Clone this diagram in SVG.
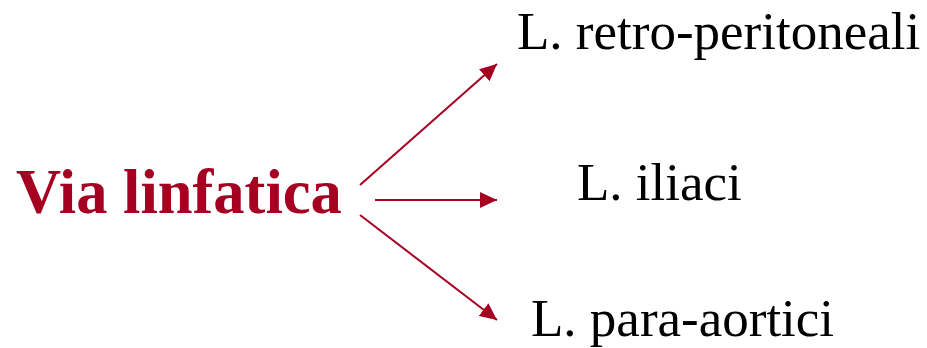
<svg xmlns="http://www.w3.org/2000/svg" width="927" height="348" viewBox="0 0 927 348">
<defs>
<style>
.src{font-family:"Liberation Serif","Times New Roman",serif;font-weight:bold;font-size:62.5px;fill:#A50021}
.dst{font-family:"Liberation Serif","Times New Roman",serif;font-size:53px;fill:#000}
.con{stroke:#A50021;stroke-width:2;fill:none;marker-end:url(#ah)}
</style>
<marker id="ah" markerUnits="userSpaceOnUse" markerWidth="18" markerHeight="16" refX="17" refY="8" orient="auto">
<path d="M0,0 L17,8 L0,16 Z" fill="#A50021"/>
</marker>
</defs>
<rect width="927" height="348" fill="#fff"/>
<g id="via"><text class="src" x="16" y="213">Via linfatica</text></g>
<g id="retro"><text class="dst" x="517" y="49">L. retro-peritoneali</text></g>
<g id="iliaci"><text class="dst" x="577" y="200">L. iliaci</text></g>
<g id="para"><text class="dst" x="531" y="336">L. para-aortici</text></g>
<g id="connectors">
<line class="con" x1="360" y1="185" x2="497" y2="64"/>
<line class="con" x1="375" y1="200" x2="497" y2="200"/>
<line class="con" x1="360" y1="215" x2="497" y2="320"/>
</g>
</svg>
